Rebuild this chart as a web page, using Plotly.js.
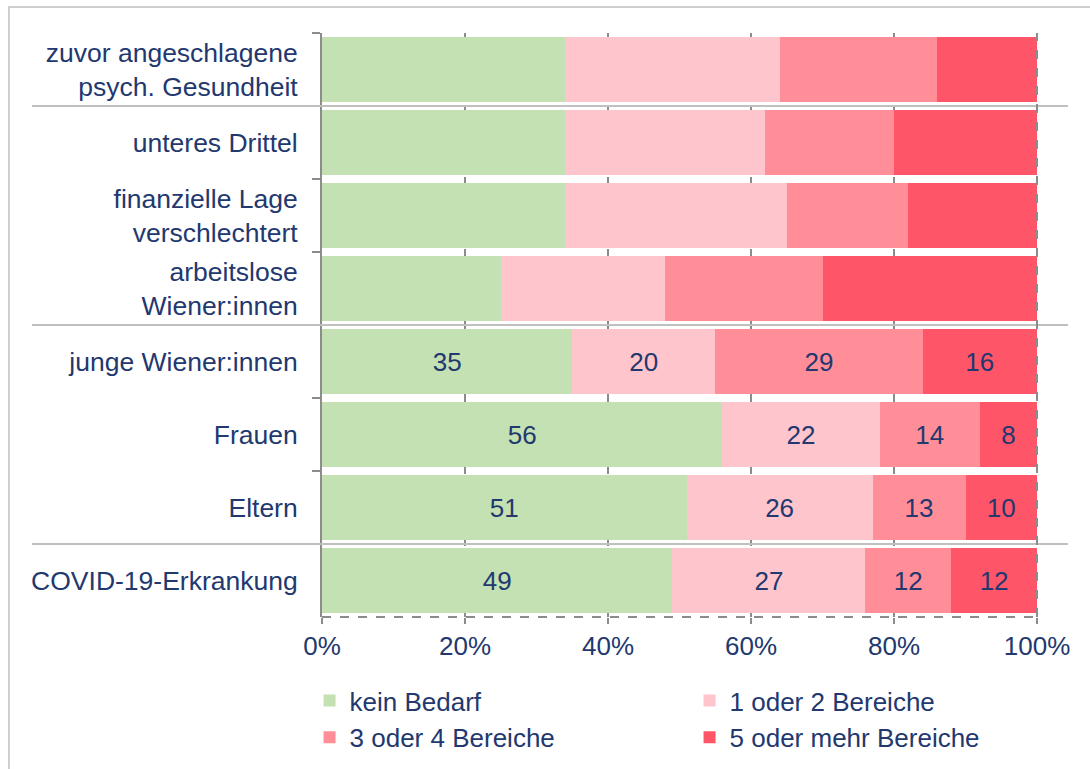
<!DOCTYPE html>
<html>
<head>
<meta charset="utf-8">
<script src="https://cdn.plot.ly/plotly-3.0.1.min.js"></script>
<style>html,body{margin:0;padding:0;background:#fff;}#chart{width:1090px;height:769px;}</style>
</head>
<body>
<div id="chart"></div>
<script>
// ---- data ----
const categories = [
  "zuvor angeschlagene<br>psych. Gesundheit",
  "unteres Drittel",
  "finanzielle Lage<br>verschlechtert",
  "arbeitslose<br>Wiener:innen",
  "junge Wiener:innen",
  "Frauen",
  "Eltern",
  "COVID-19-Erkrankung"
];
const seriesNames = ["kein Bedarf", "1 oder 2 Bereiche", "3 oder 4 Bereiche", "5 oder mehr Bereiche"];
const keinBedarf   = [34, 34, 34, 25, 35, 56, 51, 49];
const bereiche12   = [30, 28, 31, 23, 20, 22, 26, 27];
const bereiche34   = [22, 18, 17, 22, 29, 14, 13, 12];
const bereiche5plus= [14, 20, 18, 30, 16,  8, 10, 12];
const labeled      = [false, false, false, false, true, true, true, true];
const xTickValues  = [0, 20, 40, 60, 80, 100];
const xTickLabels  = ["0%", "20%", "40%", "60%", "80%", "100%"];

const colors = ["#C3E1B3", "#FFC5CC", "#FF8E99", "#FF5569"];
const navy = "#22386E";
const font = "Liberation Sans, Arial, sans-serif";

const seriesValues = [keinBedarf, bereiche12, bereiche34, bereiche5plus];
const traces = seriesValues.map((vals, i) => ({
  type: "bar",
  orientation: "h",
  name: seriesNames[i],
  y: categories,
  x: vals,
  text: vals.map((v, k) => labeled[k] ? String(v) : ""),
  textposition: "inside",
  insidetextanchor: "middle",
  constraintext: "none",
  textfont: {family: font, size: 26, color: navy},
  marker: {color: colors[i], line: {width: 0}},
  hoverinfo: "skip"
}));

const gray = "#8C8C8C";
const sepColor = "#C0C0C0";
const layout = {
  width: 1090, height: 769,
  margin: {l: 322, r: 53, t: 33, b: 152, autoexpand: false},
  paper_bgcolor: "#fff", plot_bgcolor: "#fff",
  font: {family: font, size: 26, color: navy},
  barmode: "stack",
  bargap: 0.1,
  showlegend: true,
  legend: {
    orientation: "h",
    x: -0.0174, xanchor: "left",
    y: -0.1027, yanchor: "top",
    entrywidth: 335,
    font: {family: font, size: 26, color: navy},
    traceorder: "normal",
    itemclick: false
  },
  xaxis: {
    range: [0, 100],
    tickvals: xTickValues,
    ticktext: xTickLabels,
    showgrid: true, gridcolor: gray, griddash: "dash", gridwidth: 2,
    zeroline: false, showline: false,
    ticks: "outside", ticklen: 6, tickwidth: 2, tickcolor: gray,
    tickfont: {family: font, size: 26, color: navy},
    fixedrange: true
  },
  yaxis: {
    type: "category",
    autorange: "reversed",
    showgrid: false, zeroline: false,
    showline: true, linecolor: gray, linewidth: 2,
    ticks: "outside", tickson: "boundaries", ticklen: 8, tickwidth: 2, tickcolor: gray,
    ticklabelstandoff: 17,
    tickfont: {family: font, size: 26.5, color: navy},
    fixedrange: true
  },
  shapes: [
    // outer frame
    {type: "rect", xref: "paper", yref: "paper", x0: -0.4378, x1: 1.2, y0: 1.0445, y1: -0.4,
     line: {color: sepColor, width: 1.5}, layer: "below"},
    // group separators
    {type: "line", xref: "paper", yref: "y", x0: -0.4056, x1: 1.0434, y0: 0.5, y1: 0.5, line: {color: sepColor, width: 2}},
    {type: "line", xref: "paper", yref: "y", x0: -0.4056, x1: 1.0434, y0: 3.5, y1: 3.5, line: {color: sepColor, width: 2}},
    {type: "line", xref: "paper", yref: "y", x0: -0.4056, x1: 1.0434, y0: 6.5, y1: 6.5, line: {color: sepColor, width: 2}},
    // dashed bottom axis and right edge
    {type: "line", xref: "paper", yref: "paper", x0: 0, x1: 1, y0: 0, y1: 0, line: {color: gray, width: 2, dash: "dash"}},
    {type: "line", xref: "paper", yref: "paper", x0: 1, x1: 1, y0: 0, y1: 1, line: {color: gray, width: 2, dash: "dash"}}
  ]
};

Plotly.newPlot("chart", traces, layout, {displayModeBar: false, staticPlot: true});
</script>
</body>
</html>
